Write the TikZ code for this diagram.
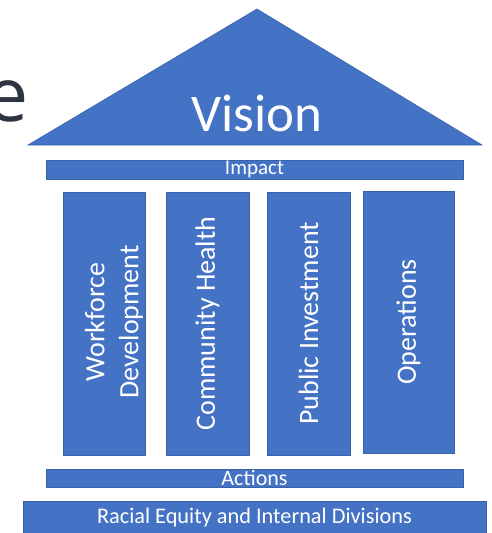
\documentclass[tikz,border=0pt]{standalone}
\usepackage{fontspec}
\setmainfont{Carlito}
\newfontfamily\efont{Open Sans}
\definecolor{pblue}{HTML}{4472C4}
\definecolor{pedge}{HTML}{3A62A8}
\definecolor{egray}{HTML}{2E3440}
\tikzset{
  bar/.style={draw=pedge, line width=0.8pt, fill=pblue, inner sep=0pt, text=white},
  pillar/.style={bar, minimum height=263pt},
  ptext/.style={text=white, rotate=90, align=center, font=\fontsize{28}{34}\selectfont, inner sep=0pt},
}
\begin{document}
\begin{tikzpicture}[x=1pt,y=-1pt]
\useasboundingbox (0,0) rectangle (492,533);
% partially visible letter
\node[anchor=base east, inner sep=0pt, text=egray, font=\efont\fontsize{75}{75}\selectfont] (elet) at (29,121) {e};
% roof
\draw[draw=pedge, line width=0.6pt, fill=pblue] (28,145) -- (257,9) -- (482,145) -- cycle;
\node[text=white, inner sep=0pt, font=\fontsize{53}{60}\selectfont] (vision) at (257,113) {Vision};
% bars
\node[bar, minimum width=417pt, minimum height=19pt, font=\fontsize{21}{21}\selectfont] (impact) at (254.5,169.5) {Impact};
\node[pillar, minimum width=82pt] (p1) at (104,323.5) {};
\node[pillar, minimum width=83pt] (p2) at (207.5,323.5) {};
\node[pillar, minimum width=83pt] (p3) at (308.5,323.5) {};
\node[pillar, minimum width=91pt, minimum height=262pt] (p4) at (408.5,322) {};
\node[ptext] (t1) at (114,322) {Workforce\\Development};
\node[ptext] (t2) at (p2) {Community Health};
\node[ptext] (t3) at (p3) {Public Investment};
\node[ptext] (t4) at (p4) {Operations};
\node[bar, minimum width=417pt, minimum height=18pt, font=\fontsize{22}{22}\selectfont] (actions) at (254.5,478) {Actions};
\node[bar, minimum width=463pt, minimum height=39pt] (racialbox) at (254.5,520.5) {};
\node[text=white, inner sep=0pt, font=\fontsize{22.3}{24}\selectfont] (racial) at (254.5,518) {Racial Equity and Internal Divisions};
\end{tikzpicture}
\end{document}
